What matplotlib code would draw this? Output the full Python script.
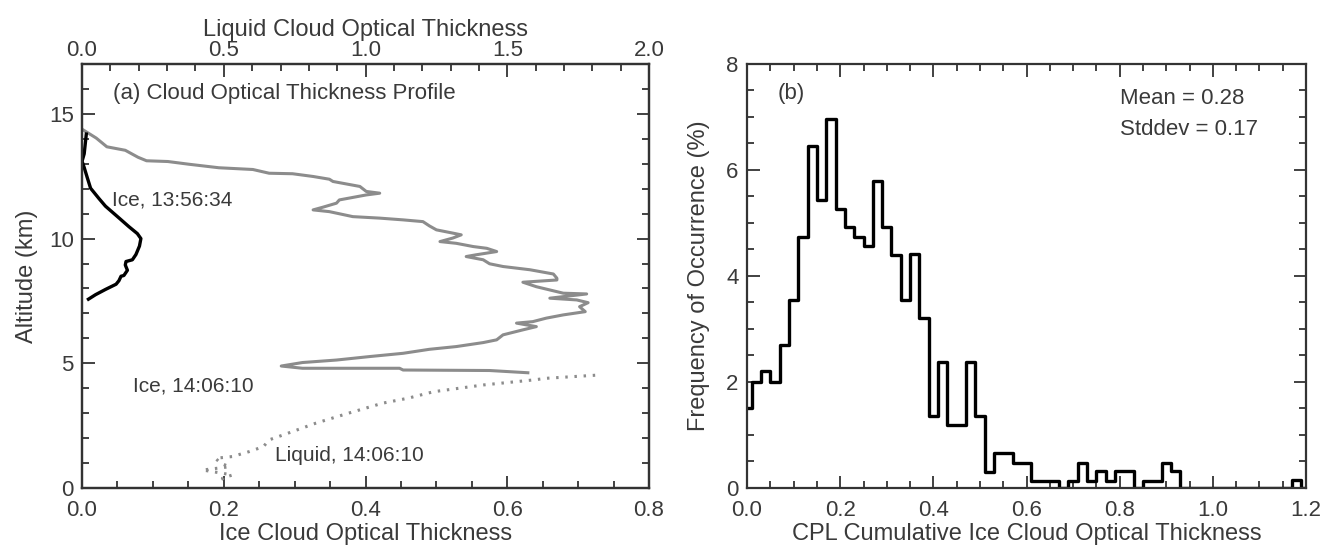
import numpy as np
import matplotlib.pyplot as plt
from matplotlib.ticker import MultipleLocator

plt.rcParams['font.family'] = ['Liberation Sans', 'DejaVu Sans']

# (a) profiles: ice optical thickness vs altitude (km)
ice1_tau = [0.006, 0.003, 0.0, 0.003, 0.0075, 0.012, 0.024, 0.033, 0.052, 0.066, 0.078, 0.083,
            0.081, 0.076, 0.071, 0.062, 0.061, 0.064, 0.059, 0.055, 0.052, 0.048, 0.033, 0.019, 0.009]
ice1_alt = [14.19, 13.4, 13.1, 12.85, 12.43, 12.02, 11.6, 11.3, 10.83, 10.48, 10.2, 10.0,
            9.7, 9.36, 9.15, 9.08, 8.94, 8.73, 8.52, 8.49, 8.31, 8.17, 7.96, 7.75, 7.57]

ice2_tau = [0.002, 0.02, 0.035, 0.061, 0.079, 0.091, 0.121, 0.151, 0.193, 0.241, 0.264, 0.297,
            0.326, 0.349, 0.354, 0.392, 0.401, 0.42, 0.401, 0.363, 0.359, 0.34, 0.326, 0.349,
            0.382, 0.42, 0.453, 0.481, 0.49, 0.5, 0.523, 0.535, 0.523, 0.505, 0.528, 0.552,
            0.571, 0.585, 0.556, 0.542, 0.566, 0.575, 0.594, 0.632, 0.665, 0.67, 0.67, 0.622,
            0.641, 0.66, 0.679, 0.712, 0.66, 0.698, 0.714, 0.702, 0.71, 0.679, 0.655, 0.636,
            0.613, 0.641, 0.622, 0.594, 0.585, 0.566, 0.528, 0.49, 0.453, 0.406, 0.359, 0.311,
            0.281, 0.311, 0.448, 0.453, 0.575, 0.629]
ice2_alt = [14.35, 14.03, 13.68, 13.54, 13.26, 13.12, 13.09, 12.98, 12.84, 12.77, 12.62, 12.6,
            12.49, 12.38, 12.29, 12.09, 11.89, 11.82, 11.75, 11.55, 11.42, 11.26, 11.15, 11.08,
            10.88, 10.82, 10.75, 10.68, 10.51, 10.35, 10.22, 10.15, 10.02, 9.88, 9.81, 9.68,
            9.61, 9.48, 9.35, 9.28, 9.15, 8.99, 8.88, 8.75, 8.58, 8.41, 8.34, 8.25,
            8.07, 7.94, 7.81, 7.78, 7.61, 7.54, 7.43, 7.27, 7.07, 6.94, 6.81, 6.67,
            6.61, 6.47, 6.34, 6.14, 5.94, 5.83, 5.67, 5.56, 5.4, 5.27, 5.13, 5.03,
            4.89, 4.8, 4.8, 4.73, 4.71, 4.62]

liq_tau = [1.81, 1.64, 1.59, 1.415, 1.24, 1.15, 1.06, 0.94, 0.825, 0.71, 0.66, 0.64, 0.59,
           0.53, 0.47, 0.49, 0.52, 0.425, 0.495, 0.53, 0.495, 0.5]
liq_alt = [4.52, 4.40, 4.33, 4.13, 3.86, 3.6, 3.4, 3.0, 2.6, 2.13, 1.93, 1.66, 1.46,
           1.26, 1.19, 0.99, 0.85, 0.72, 0.59, 0.52, 0.39, 0.30]

# (b) histogram of cumulative ice optical thickness, bin centres every 0.02
bin_centers = np.round(np.arange(0, 1.2001, 0.02), 2)
freq = [1.5, 2.0, 2.2, 2.0, 2.7, 3.55, 4.74, 6.46, 5.43, 6.97, 5.27, 4.92, 4.74, 4.56, 5.79,
        4.92, 4.4, 3.55, 4.42, 3.21, 1.36, 2.38, 1.18, 1.18, 2.38, 1.36, 0.3, 0.66, 0.66,
        0.48, 0.48, 0.13, 0.13, 0.13, 0.0, 0.13, 0.48, 0.13, 0.32, 0.13, 0.32, 0.32, 0.0,
        0.13, 0.13, 0.48, 0.32, 0.0, 0.0, 0.0, 0.0, 0.0, 0.0, 0.0, 0.0, 0.0, 0.0, 0.0,
        0.0, 0.15, 0.0]

txt = '#3a3a3a'
fs = 16


def style(ax):
    for s in ax.spines.values():
        s.set_linewidth(1.6)
        s.set_color('#333333')
    ax.tick_params(which='both', direction='in', colors='#333333', labelcolor=txt,
                   labelsize=fs, width=1.3)
    ax.tick_params(which='major', length=9, pad=6)
    ax.tick_params(which='minor', length=5)


fig = plt.figure(figsize=(13.3, 5.47), dpi=100)

ax1 = fig.add_axes([0.0617, 0.1079, 0.4263, 0.7751])
ax1.plot(ice1_tau, ice1_alt, color='black', lw=2.4, zorder=3)
ax1.plot(ice2_tau, ice2_alt, color='#8c8c8c', lw=2.2, zorder=2)
ax1.set_xlim(0, 0.8)
ax1.set_ylim(0, 17)
ax1.xaxis.set_major_locator(MultipleLocator(0.2))
ax1.xaxis.set_minor_locator(MultipleLocator(0.05))
ax1.yaxis.set_major_locator(MultipleLocator(5))
ax1.yaxis.set_minor_locator(MultipleLocator(1))
ax1.xaxis.set_major_formatter(lambda v, p: f'{v:.1f}')
style(ax1)
ax1.tick_params(right=True, which='both')
ax1.tick_params(labelright=False)
ax1.tick_params(axis='x', pad=9)
ax1.set_xlabel('Ice Cloud Optical Thickness', fontsize=fs + 1, color=txt, labelpad=1)
ax1.set_ylabel('Altitude (km)', fontsize=fs + 1, color=txt, labelpad=8)

ax1t = ax1.twiny()
ax1t.plot(liq_tau, liq_alt, color='#8c8c8c', lw=2.2, linestyle=(0, (0.8, 2.2)))
ax1t.set_xlim(0, 2.0)
ax1t.xaxis.set_major_locator(MultipleLocator(0.5))
ax1t.xaxis.set_minor_locator(MultipleLocator(0.1))
ax1t.xaxis.set_major_formatter(lambda v, p: f'{v:.1f}')
style(ax1t)
ax1t.tick_params(axis='x', pad=2)
ax1t.set_xlabel('Liquid Cloud Optical Thickness', fontsize=fs + 1, color=txt, labelpad=3)

ax1.text(0.044, 15.8, '(a) Cloud Optical Thickness Profile', fontsize=fs, color=txt,
         va='center', ha='left')
ax1.text(0.042, 11.55, 'Ice, 13:56:34', fontsize=fs - 1, color=txt, va='center', ha='left')
ax1.text(0.072, 4.1, 'Ice, 14:06:10', fontsize=fs - 1, color=txt, va='center', ha='left')
ax1.text(0.272, 1.3, 'Liquid, 14:06:10', fontsize=fs - 1, color=txt, va='center', ha='left')

ax2 = fig.add_axes([0.5617, 0.1079, 0.4203, 0.7751])
ax2.step(bin_centers, freq, where='mid', color='black', lw=2.4)
ax2.set_xlim(0, 1.2)
ax2.set_ylim(0, 8)
ax2.xaxis.set_major_locator(MultipleLocator(0.2))
ax2.xaxis.set_minor_locator(MultipleLocator(0.05))
ax2.yaxis.set_major_locator(MultipleLocator(2))
ax2.yaxis.set_minor_locator(MultipleLocator(0.5))
ax2.xaxis.set_major_formatter(lambda v, p: f'{v:.1f}')
style(ax2)
ax2.tick_params(top=True, right=True, which='both')
ax2.tick_params(axis='x', pad=9)
ax2.set_xlabel('CPL Cumulative Ice Cloud Optical Thickness', fontsize=fs + 1, color=txt,
               labelpad=1)
ax2.set_ylabel('Frequency of Occurrence (%)', fontsize=fs + 1, color=txt, labelpad=12)
ax2.text(0.065, 7.44, '(b)', fontsize=fs, color=txt, va='center', ha='left')
ax2.text(0.80, 7.35, 'Mean = 0.28', fontsize=fs, color=txt, va='center', ha='left')
ax2.text(0.80, 6.77, 'Stddev = 0.17', fontsize=fs, color=txt, va='center', ha='left')

fig.savefig('out.png', dpi=100, facecolor='white')
